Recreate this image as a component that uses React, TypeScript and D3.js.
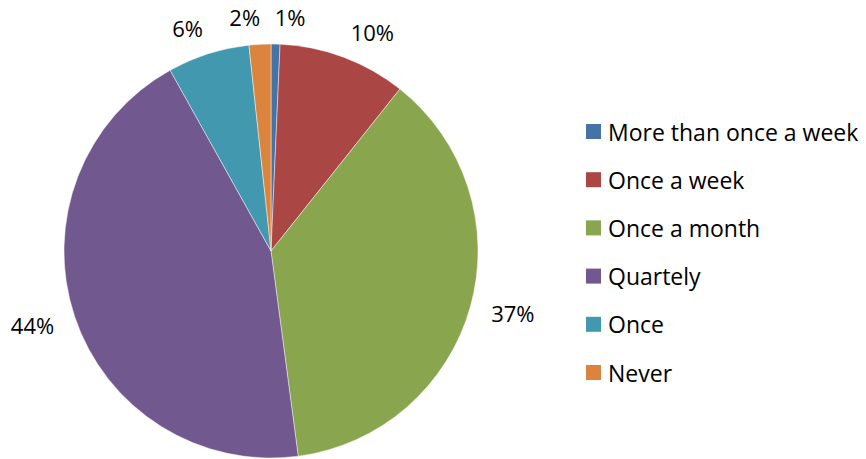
import React from "react";
import * as d3 from "d3";

const categories = [
  "More than once a week",
  "Once a week",
  "Once a month",
  "Quartely",
  "Once",
  "Never",
];
const shares = [0.7, 10.0, 37.2, 44.0, 6.4, 1.7];
const colors = ["#4572A7", "#AA4643", "#89A54E", "#71588F", "#4198AF", "#DB843D"];

const W = 866;
const H = 459;
const cx = 271;
const cy = 251;
const R = 207;
const FONT = "'Open Sans', Lato, sans-serif";

export default function App() {
  const pie = d3
    .pie<number>()
    .sort(null)
    .value((d) => d)
    .startAngle(0)
    .endAngle(2 * Math.PI);
  const arcs = pie(shares);
  const arc = d3.arc<d3.PieArcDatum<number>>().innerRadius(0).outerRadius(R);

  const legendY = d3
    .scalePoint<string>()
    .domain(categories)
    .range([131.5, 372.5]);

  // label anchor: just outside the slice, pushed sideways by half the text box
  const labelRx = R + 22;
  const labelRy = R + 17;
  const labelSize = 22;

  return (
    <svg
      width={W}
      height={H}
      style={{ position: "absolute", left: 0, top: 0, background: "#fff" }}
    >
      <g transform={`translate(${cx},${cy})`}>
        {arcs.map((a, i) => (
          <path
            key={categories[i]}
            d={arc(a) || ""}
            fill={colors[i]}
            stroke="#fff"
            strokeOpacity={0.6}
            strokeWidth={0.75}
          />
        ))}
        {arcs.map((a, i) => {
          const mid = (a.startAngle + a.endAngle) / 2;
          const s = Math.sin(mid);
          const c = Math.cos(mid);
          const txt = `${Math.round(shares[i])}%`;
          const w = txt.length * labelSize * 0.64;
          const x = labelRx * s + Math.sign(s) * (w / 2);
          const y = -labelRy * c - c * 10;
          return (
            <text
              key={"l" + i}
              x={x}
              y={y}
              textAnchor="middle"
              dominantBaseline="central"
              fontFamily={FONT}
              fontSize={labelSize}
              fill="#000"
            >
              {txt}
            </text>
          );
        })}
      </g>
      <g>
        {categories.map((name, i) => (
          <g key={name} transform={`translate(586,${legendY(name)})`}>
            <rect x={0} y={-7.5} width={15} height={15} fill={colors[i]} />
            <text
              x={22}
              y={0}
              dominantBaseline="central"
              fontFamily={FONT}
              fontSize={23}
              fill="#000"
            >
              {name}
            </text>
          </g>
        ))}
      </g>
    </svg>
  );
}
